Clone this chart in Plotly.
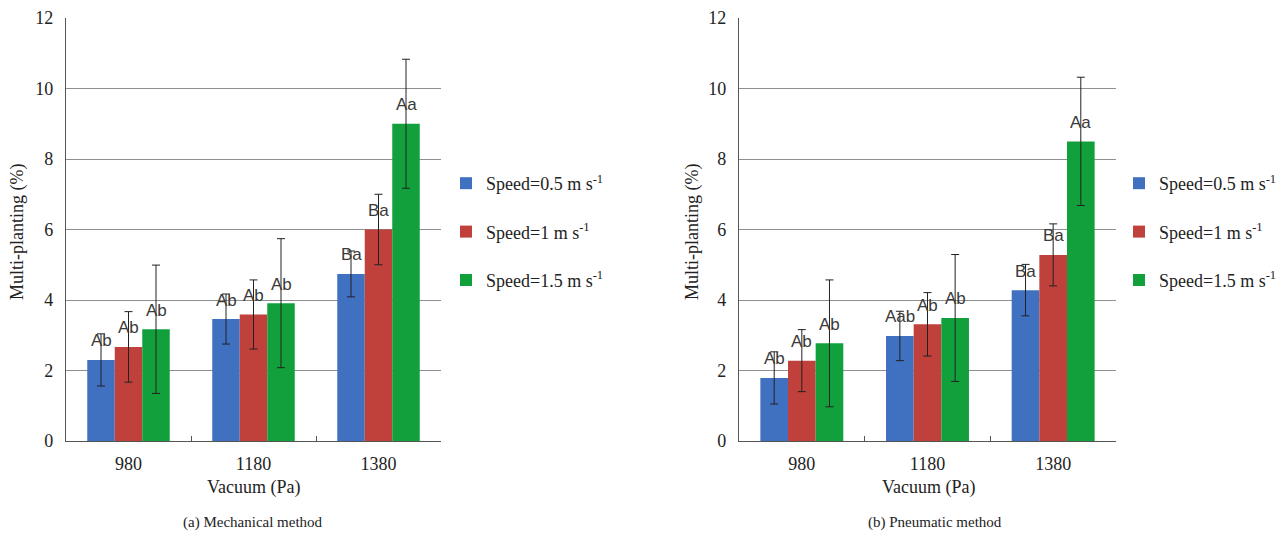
import plotly.graph_objects as go

categories = ["980", "1180", "1380"]
series_names = ["Speed=0.5 m s<sup>-1</sup>", "Speed=1 m s<sup>-1</sup>", "Speed=1.5 m s<sup>-1</sup>"]
colors = ["#4070C0", "#C0403C", "#12A03C"]

# (a) Mechanical method
mech_v05 = [2.30, 3.46, 4.74]
mech_v10 = [2.67, 3.59, 6.00]
mech_v15 = [3.17, 3.91, 9.00]
mech_e05 = [0.74, 0.71, 0.65]
mech_e10 = [1.00, 0.98, 1.00]
mech_e15 = [1.82, 1.83, 1.83]
mech_lbl05 = ["Ab", "Ab", "Ba"]
mech_lbl10 = ["Ab", "Ab", "Ba"]
mech_lbl15 = ["Ab", "Ab", "Aa"]

# (b) Pneumatic method
pneu_v05 = [1.79, 2.98, 4.28]
pneu_v10 = [2.28, 3.31, 5.28]
pneu_v15 = [2.77, 3.49, 8.50]
pneu_e05 = [0.74, 0.70, 0.73]
pneu_e10 = [0.88, 0.90, 0.88]
pneu_e15 = [1.80, 1.80, 1.82]
pneu_lbl05 = ["Ab", "Aab", "Ba"]
pneu_lbl10 = ["Ab", "Ab", "Ba"]
pneu_lbl15 = ["Ab", "Ab", "Aa"]

W, H = 1280, 534
BARGAP = 0.34
SERIF = "Liberation Serif"
SANS = "Liberation Sans"

fig = go.Figure()

panels = [
    dict(xa="x", ya="y", legend="legend",
         vals=[mech_v05, mech_v10, mech_v15],
         errs=[mech_e05, mech_e10, mech_e15],
         lbls=[mech_lbl05, mech_lbl10, mech_lbl15]),
    dict(xa="x2", ya="y2", legend="legend2",
         vals=[pneu_v05, pneu_v10, pneu_v15],
         errs=[pneu_e05, pneu_e10, pneu_e15],
         lbls=[pneu_lbl05, pneu_lbl10, pneu_lbl15]),
]

annotations = []
bw = (1 - BARGAP) / 3
for p in panels:
    for k in range(3):
        fig.add_trace(go.Bar(
            x=categories, y=p["vals"][k], name=series_names[k],
            marker=dict(color=colors[k], line=dict(width=0)),
            error_y=dict(type="data", array=p["errs"][k], color="#222222",
                         thickness=1, width=4),
            xaxis=p["xa"], yaxis=p["ya"], legend=p["legend"],
            legendgroup=p["legend"] + str(k),
        ))
        for i, c in enumerate(categories):
            annotations.append(dict(
                x=i + (k - 1) * bw, y=p["vals"][k][i], xref=p["xa"], yref=p["ya"],
                text=p["lbls"][k][i], showarrow=False, yanchor="middle", yshift=19,
                font=dict(family=SANS, size=17, color="#3a3a3a")))

def px_x(v):
    return v / W

def px_y(v):
    return 1 - v / H

ydom = [px_y(441), px_y(18)]
axis_common = dict(showline=True, linecolor="#555555", linewidth=1.2, automargin=False,
                   tickfont=dict(family=SERIF, size=18, color="#222222"))
xcommon = dict(ticks="inside", tickson="boundaries", ticklen=5, tickcolor="#555555",
               ticklabelstandoff=6, **axis_common)
ycommon = dict(range=[0, 12], dtick=2, showgrid=True, gridcolor="#8f8f8f", gridwidth=1,
               ticks="", ticklabelstandoff=8, **axis_common)
legend_common = dict(xanchor="left", yanchor="top",
                     font=dict(family=SERIF, size=18, color="#222222"),
                     tracegroupgap=22, bgcolor="rgba(0,0,0,0)")
fig.update_layout(
    width=W, height=H, margin=dict(l=0, r=0, t=0, b=0, autoexpand=False),
    plot_bgcolor="white", paper_bgcolor="white",
    barmode="group", bargap=BARGAP, bargroupgap=0,
    xaxis=dict(domain=[px_x(66), px_x(441)], anchor="y", **xcommon),
    yaxis=dict(domain=ydom, anchor="x", **ycommon),
    xaxis2=dict(domain=[px_x(739), px_x(1116)], anchor="y2", **xcommon),
    yaxis2=dict(domain=ydom, anchor="x2", **ycommon),
    legend=dict(x=px_x(446), y=px_y(165), **legend_common),
    legend2=dict(x=px_x(1119), y=px_y(165), **legend_common),
)

txt = dict(family=SERIF, size=18, color="#222222")
sub = dict(family=SERIF, size=15, color="#222222")
extra = [
    dict(x=px_x(18), y=px_y(232), text="Multi-planting (%)", textangle=-90, font=txt),
    dict(x=px_x(693), y=px_y(232), text="Multi-planting (%)", textangle=-90, font=txt),
    dict(x=px_x(253), y=px_y(487), text="Vacuum (Pa)", font=txt),
    dict(x=px_x(928), y=px_y(487), text="Vacuum (Pa)", font=txt),
    dict(x=px_x(253), y=px_y(522), text="(a) Mechanical method", font=sub),
    dict(x=px_x(935), y=px_y(522), text="(b) Pneumatic method", font=sub),
]
for a in extra:
    a.update(xref="paper", yref="paper", showarrow=False, xanchor="center",
             yanchor="middle")
    annotations.append(a)
fig.update_layout(annotations=annotations)

fig.write_html("out.html", config={"displayModeBar": False},
               post_script="document.body.style.margin='0';document.body.style.overflow='hidden';")
